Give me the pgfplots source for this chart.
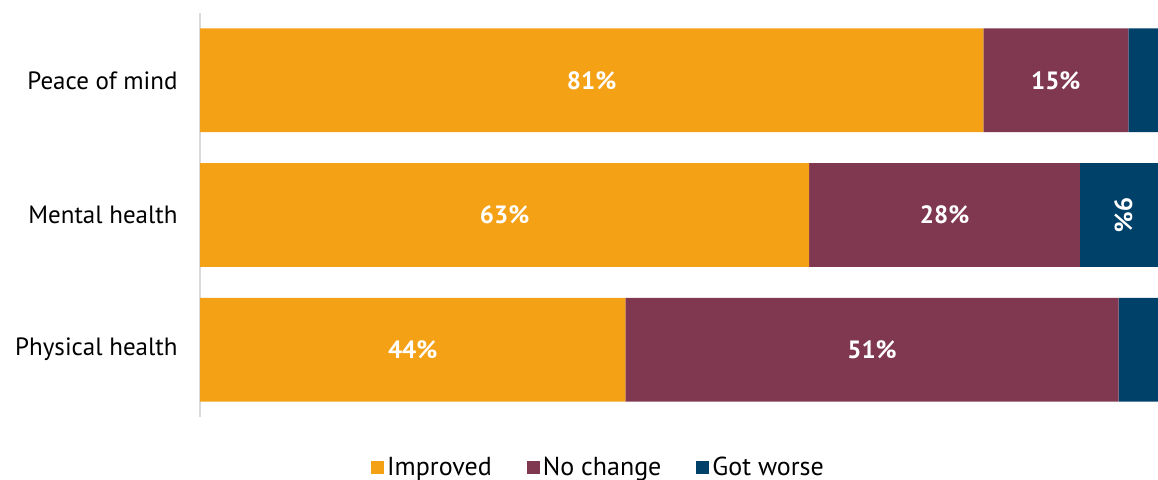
\documentclass[border=0pt]{standalone}
\usepackage{pgfplots}
\pgfplotsset{compat=1.18}
\usepackage{fontspec}
\setmainfont{PT Sans}
\definecolor{cImp}{RGB}{244,161,22}
\definecolor{cNo}{RGB}{128,55,80}
\definecolor{cWorse}{RGB}{0,65,105}
\pgfplotstableread{
y imp no worse
0 81 15 4
1 63 28 9
2 44 51 5
}\datatable
\begin{document}
\begin{tikzpicture}
\useasboundingbox (0,0) rectangle (579pt,240pt);
\pgfplotsset{commonax/.style={
  at={(100pt,31.5pt)}, anchor=south west,
  scale only axis, width=483.5pt, height=202pt,
  xmin=0, xmax=100, ymin=-0.5, ymax=2.5, y dir=reverse,
  clip=false}}
\begin{axis}[
  commonax,
  xbar stacked, bar width=0.77,
  axis x line=none, axis y line*=left,
  y axis line style={draw=black!15, line width=0.8pt},
  ytick={0,1,2}, yticklabels={Peace of mind,Mental health,Physical health},
  major tick length=0,
  yticklabel style={font=\fontsize{12.5}{14}\selectfont, inner sep=0pt, xshift=-11pt, text=black},
  legend style={at={(0.4126,-0.126)}, anchor=center, draw=none, fill=none,
    font=\fontsize{13}{15}\selectfont, legend columns=-1,
    nodes={inner sep=1.5pt},
    /tikz/every even column/.append style={column sep=16pt}},
  legend image code/.code={\fill[#1] (0pt,-3.25pt) rectangle (6.5pt,3.25pt);},
]
\addplot[fill=cImp, draw=none] table[x=imp, y=y] {\datatable};
\addplot[fill=cNo, draw=none] table[x=no, y=y] {\datatable};
\addplot[fill=cWorse, draw=none] table[x=worse, y=y] {\datatable};
\legend{Improved, No change, Got worse}
\end{axis}
\begin{axis}[
  commonax, hide axis,
  nodes near coords={\pgfplotspointmeta\%},
  point meta=explicit symbolic,
  every node near coord/.style={anchor=center, text=white, inner sep=0pt,
    font=\bfseries\fontsize{12.5}{14}\selectfont},
]
\addplot[draw=none] table[x=x, y=y, meta=l] {
x y l
40.5 0 81
88.5 0 15
31.5 1 63
77 1 28
22 2 44
69.5 2 51
};
\addplot[draw=none, nodes near coords style={rotate=-90}] table[x=x, y=y, meta=l] {
x y l
95.5 1 9
};
\end{axis}
\end{tikzpicture}
\end{document}
